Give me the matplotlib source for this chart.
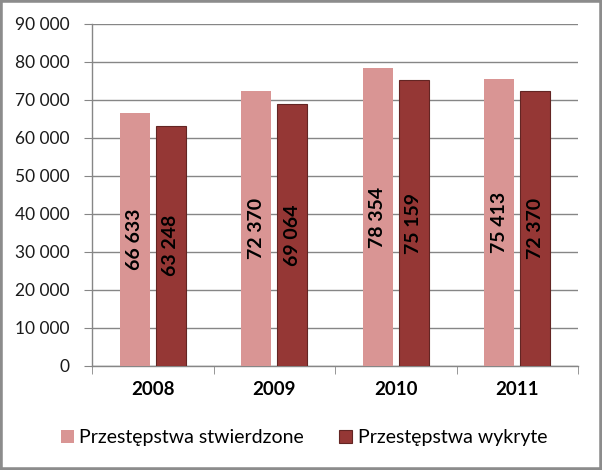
import numpy as np
import matplotlib.pyplot as plt
from matplotlib.patches import Rectangle

plt.rcParams['font.family'] = ['Lato', 'DejaVu Sans']

lata = ['2008', '2009', '2010', '2011']
stwierdzone = [66633, 72370, 78354, 75413]
wykryte = [63248, 69064, 75159, 72370]
nazwy = ['Przestępstwa stwierdzone', 'Przestępstwa wykryte']

kolor_jasny = '#D99594'
kolor_ciemny = '#953735'
szary = '#868686'


def fmt(v):
    return '{:,}'.format(v).replace(',', ' ')


fig = plt.figure(figsize=(6.02, 4.70), dpi=100)
ax = fig.add_axes([92 / 602, 1 - 366 / 470, (578 - 92) / 602, (366 - 24) / 470])

x = np.arange(len(lata))
w = 0.247
off = 0.148
b1 = ax.bar(x - off, stwierdzone, w, color=kolor_jasny, label=nazwy[0], zorder=3)
b2 = ax.bar(x + off, wykryte, w, color=kolor_ciemny, edgecolor='#632523',
            linewidth=0.8, label=nazwy[1], zorder=3)

for bars, vals in [(b1, stwierdzone), (b2, wykryte)]:
    for r, v in zip(bars, vals):
        ax.text(r.get_x() + r.get_width() / 2, v / 2, fmt(v), rotation=90,
                ha='center', va='center', fontsize=14, fontweight='bold',
                color='black', zorder=4)

ax.set_xlim(-0.5, 3.5)
ax.set_ylim(0, 90000)
yt = np.arange(0, 90001, 10000)
ax.set_yticks(yt)
ax.set_yticklabels([fmt(v) for v in yt], fontsize=12.5, color='#1a1a1a')
ax.yaxis.grid(True, color=szary, linewidth=1, zorder=0)
ax.tick_params(axis='y', length=6, color=szary, pad=10)

ax.set_xticks(x)
ax.set_xticklabels(lata, fontsize=13.5, fontweight='bold')
ax.set_xticks(np.arange(-0.5, 3.6, 1), minor=True)
ax.tick_params(axis='x', which='major', length=0, pad=11)
ax.tick_params(axis='x', which='minor', length=5.5, color=szary, direction='out')

for s in ['top', 'right']:
    ax.spines[s].set_visible(False)
for s in ['left', 'bottom']:
    ax.spines[s].set_color(szary)
    ax.spines[s].set_linewidth(1)

fig.legend(handles=[b1, b2], loc='center', bbox_to_anchor=(0.505, 1 - 438 / 470),
           ncol=2, frameon=False, fontsize=14, handlelength=0.65, handleheight=0.65,
           handletextpad=0.3, columnspacing=1.8)

fig.patches.append(Rectangle((0, 0), 1, 1, transform=fig.transFigure, fill=False,
                             edgecolor='#8c8c8c', linewidth=4))

fig.savefig('out.png', dpi=100)
